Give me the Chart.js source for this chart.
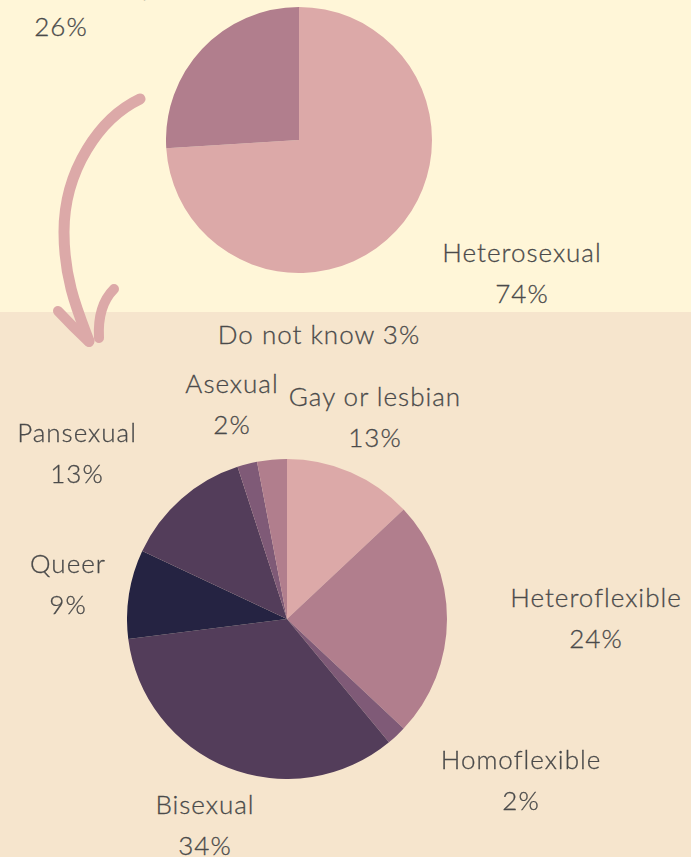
<!DOCTYPE html>
<html>
<head>
<meta charset="utf-8">
<script src="https://cdn.jsdelivr.net/npm/chart.js@4/dist/chart.umd.min.js"></script>
<style>
  html, body { margin: 0; padding: 0; }
  body { width: 691px; height: 857px; position: relative; overflow: hidden; font-family: Lato, "Noto Sans", sans-serif; }
  #top-bg { position: absolute; left: 0; top: 0; width: 691px; height: 312px; background: #fff6d8; }
  #bottom-bg { position: absolute; left: 0; top: 312px; width: 691px; height: 545px; background: #f6e5cd; }
  canvas { position: absolute; }
  #chart-top { left: 166px; top: 7px; }
  #chart-bottom { left: 127px; top: 459px; }
  #arrow { position: absolute; left: 0; top: 0; }
  .label { position: absolute; transform: translateX(-50%); white-space: nowrap; text-align: center;
           font-size: 26px; font-weight: 300; letter-spacing: 1px; line-height: 41px; color: #4a4a4a;
           -webkit-text-stroke: 0.3px #4a4a4a; }
</style>
</head>
<body>
<div id="top-bg"></div>
<div id="bottom-bg"></div>
<svg id="arrow" width="200" height="360">
  <g fill="none" stroke="#dca9a8" stroke-linecap="round" stroke-linejoin="round">
    <path d="M140,99 C100,118 64,170 64,232 C64,280 78,312 89,341" stroke-width="11"/>
    <path d="M58,311 Q72,326 89,342" stroke-width="10"/>
    <path d="M114,289 C101,302 98,320 99,338" stroke-width="10"/>
  </g>
</svg>
<canvas id="chart-top" width="266" height="266"></canvas>
<canvas id="chart-bottom" width="320" height="320"></canvas>
<div id="labels"></div>
<script>
// overall split
const topCategories = ["Heterosexual", "Sexual minority"];
const topValues = [74, 26];
const topColors = ["#dca9a8", "#b17e8d"];

// breakdown of the minority group
const bottomCategories = ["Gay or lesbian", "Heteroflexible", "Homoflexible", "Bisexual",
                          "Queer", "Pansexual", "Asexual", "Do not know"];
const bottomValues = [13, 24, 2, 34, 9, 13, 2, 3];
const bottomColors = ["#dca9a8", "#b17e8d", "#7f5a77", "#533d5a",
                      "#252342", "#533d5a", "#7f5a77", "#b17e8d"];

// label placement: [category, centre x, baseline y of first line, single line?]
const labelPlaces = [
  ["Sexual minority", 61, -4, false],
  ["Heterosexual", 522, 263, false],
  ["Do not know", 319, 345, true],
  ["Asexual", 232, 394, false],
  ["Gay or lesbian", 375, 407, false],
  ["Pansexual", 77, 443, false],
  ["Queer", 68, 574, false],
  ["Heteroflexible", 596, 608, false],
  ["Homoflexible", 521, 770, false],
  ["Bisexual", 205, 815, false]
];

function pie(id, labels, values, colors) {
  return new Chart(document.getElementById(id), {
    type: "pie",
    data: {
      labels: labels,
      datasets: [{
        data: values,
        backgroundColor: colors,
        borderWidth: 0,
        hoverOffset: 0,
        offset: 0
      }]
    },
    options: {
      responsive: false,
      animation: false,
      events: [],
      layout: { padding: 0 },
      plugins: { legend: { display: false }, tooltip: { enabled: false } }
    }
  });
}

pie("chart-top", topCategories, topValues, topColors);
pie("chart-bottom", bottomCategories, bottomValues, bottomColors);

// labels as html text
const holder = document.getElementById("labels");
const baselineOffset = 30.6;
labelPlaces.forEach(([name, x, y, oneLine]) => {
  let i = topCategories.indexOf(name);
  const value = i >= 0 ? topValues[i] : bottomValues[bottomCategories.indexOf(name)];
  const div = document.createElement("div");
  div.className = "label";
  div.style.left = x + "px";
  div.style.top = (y - baselineOffset) + "px";
  div.innerHTML = oneLine ? `${name} ${value}%` : `${name}<br>${value}%`;
  holder.appendChild(div);
});
</script>
</body>
</html>
